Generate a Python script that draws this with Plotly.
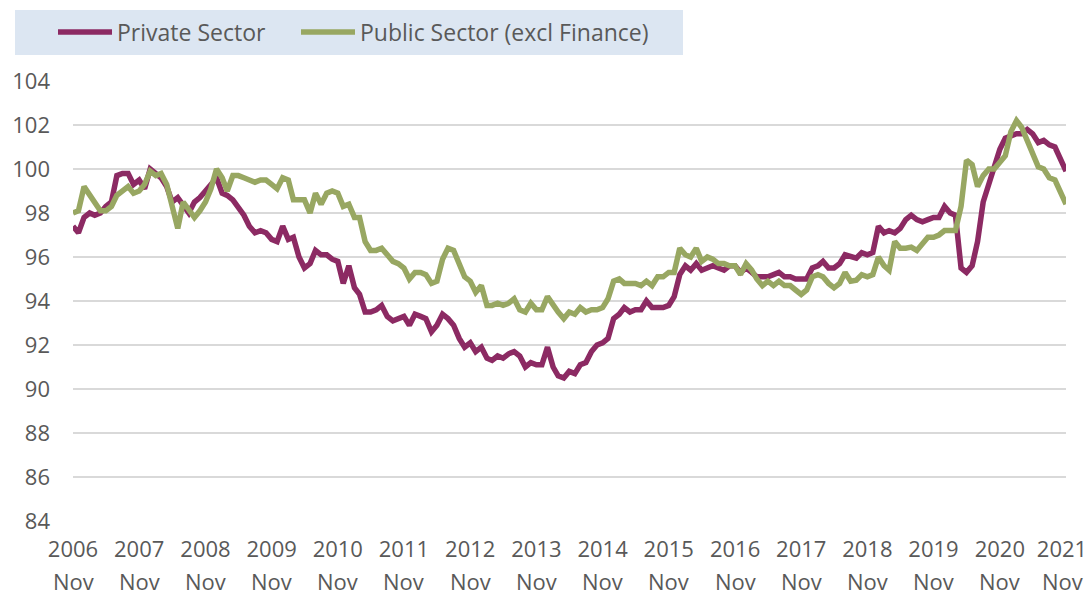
import pandas as pd
import plotly.graph_objects as go

start_month = "2006-11-01"
n_months = 181
tick_years = [str(y) for y in range(2006, 2022)]
tick_month = "Nov"

private_sector = [
    97.4, 97.1, 97.8, 98.0, 97.9, 98.0, 98.3, 98.5, 99.7, 99.8, 99.8, 99.3,
    99.5, 99.1, 100.0, 99.8, 99.6, 99.2, 98.5, 98.7, 98.3, 98.0, 98.5, 98.7,
    99.0, 99.3, 99.6, 98.9, 98.8, 98.6, 98.3, 97.9, 97.4, 97.1, 97.2, 97.1,
    96.8, 96.7, 97.4, 96.8, 96.9, 96.0, 95.5, 95.7, 96.3, 96.1, 96.1, 95.9,
    95.8, 94.8, 95.6, 94.6, 94.3, 93.5, 93.5, 93.6, 93.8, 93.3, 93.1, 93.2,
    93.3, 92.9, 93.4, 93.3, 93.2, 92.6, 92.9, 93.4, 93.2, 92.9, 92.3, 91.9,
    92.1, 91.7, 91.9, 91.4, 91.3, 91.5, 91.4, 91.6, 91.7, 91.5, 91.0, 91.2,
    91.1, 91.1, 91.9, 91.0, 90.6, 90.5, 90.8, 90.7, 91.1, 91.2, 91.7, 92.0,
    92.1, 92.3, 93.2, 93.4, 93.7, 93.5, 93.6, 93.6, 94.0, 93.7, 93.7, 93.7,
    93.8, 94.2, 95.2, 95.6, 95.4, 95.7, 95.4, 95.5, 95.6, 95.5, 95.4, 95.6,
    95.6, 95.3, 95.5, 95.3, 95.1, 95.1, 95.1, 95.2, 95.3, 95.1, 95.1, 95.0,
    95.0, 95.0, 95.5, 95.6, 95.8, 95.5, 95.5, 95.7, 96.1, 96.0, 95.95, 96.2,
    96.1, 96.2, 97.4, 97.1, 97.2, 97.1, 97.3, 97.7, 97.9, 97.7, 97.6, 97.7,
    97.8, 97.8, 98.3, 98.0, 97.9, 95.5, 95.3, 95.6, 96.7, 98.5, 99.3, 99.9,
    100.9, 101.4, 101.5, 101.6, 101.6, 101.8, 101.6, 101.2, 101.3, 101.1, 101.0, 100.4,
    99.9,
]

public_sector = [
    98.0, 98.1, 99.2, 98.8, 98.5, 98.1, 98.1, 98.3, 98.8, 99.0, 99.2, 98.9,
    99.0, 99.3, 99.9, 99.7, 99.8, 99.3, 98.3, 97.3, 98.5, 98.1, 97.8, 98.1,
    98.5, 99.1, 100.0, 99.6, 99.0, 99.7, 99.7, 99.6, 99.5, 99.4, 99.5, 99.5,
    99.3, 99.1, 99.6, 99.5, 98.6, 98.6, 98.6, 98.0, 98.9, 98.4, 98.9, 99.0,
    98.9, 98.3, 98.4, 97.8, 97.8, 96.7, 96.3, 96.3, 96.4, 96.1, 95.8, 95.7,
    95.5, 95.0, 95.3, 95.3, 95.2, 94.8, 94.9, 95.9, 96.4, 96.3, 95.6, 95.1,
    94.9, 94.4, 94.7, 93.8, 93.8, 93.9, 93.8, 93.9, 94.1, 93.6, 93.5, 93.9,
    93.6, 93.6, 94.2, 93.8, 93.5, 93.2, 93.5, 93.4, 93.7, 93.5, 93.6, 93.6,
    93.7, 94.1, 94.9, 95.0, 94.8, 94.8, 94.8, 94.7, 94.9, 94.7, 95.1, 95.1,
    95.3, 95.3, 96.4, 96.1, 96.0, 96.4, 95.8, 96.0, 95.9, 95.7, 95.7, 95.6,
    95.6, 95.2, 95.7, 95.4, 95.0, 94.7, 94.9, 94.7, 94.9, 94.7, 94.7, 94.5,
    94.3, 94.5, 95.1, 95.2, 95.1, 94.8, 94.6, 94.8, 95.3, 94.9, 94.95, 95.2,
    95.1, 95.2, 96.0, 95.6, 95.4, 96.7, 96.4, 96.4, 96.45, 96.3, 96.6, 96.9,
    96.9, 97.0, 97.2, 97.2, 97.2, 98.3, 100.4, 100.2, 99.2, 99.7, 100.0, 100.0,
    100.3, 100.6, 101.7, 102.2, 101.9, 101.3, 100.6, 100.1, 100.0, 99.6, 99.5, 99.0,
    98.4,
]

months = pd.date_range(start_month, periods=n_months, freq="MS")
tick_vals = list(months[::12])
# last label nudged left so it fits inside the canvas, as in the source chart
tick_vals[-1] = tick_vals[-1] - pd.Timedelta(days=22)

PURPLE = "#8C2A63"
GREEN = "#98A762"
TEXT = "#595959"
FONT = "Open Sans"

fig = go.Figure()
fig.add_trace(go.Scatter(x=months, y=private_sector, mode="lines",
                         name="Private Sector", legend="legend",
                         line=dict(color=PURPLE, width=5.5)))
fig.add_trace(go.Scatter(x=months, y=public_sector, mode="lines",
                         name="Public Sector (excl Finance)", legend="legend2",
                         line=dict(color=GREEN, width=5.5)))

L, R, T, B = 73, 25, 81, 77
W, H = 1091, 598
pw, ph = W - L - R, H - T - B

fig.add_shape(type="rect", xref="paper", yref="paper",
              x0=(15 - L) / pw, x1=(683 - L) / pw,
              y0=(H - B - 55) / ph, y1=(H - B - 10) / ph,
              fillcolor="#DCE6F2", line=dict(width=0), layer="below")

for tv in tick_vals:
    fig.add_annotation(x=tv, y=0, xref="x", yref="paper", text=tick_month,
                       showarrow=False, yanchor="bottom", yshift=-77,
                       font=dict(size=22, color=TEXT, family=FONT))

leg_common = dict(orientation="h", xref="container", yref="container",
                  xanchor="left", yanchor="middle",
                  bgcolor="rgba(0,0,0,0)", font=dict(size=23, color=TEXT),
                  itemwidth=54)

fig.update_layout(
    width=W, height=H,
    margin=dict(l=L, r=R, t=T, b=B, autoexpand=False),
    paper_bgcolor="white", plot_bgcolor="white",
    font=dict(family=FONT, size=22, color=TEXT),
    showlegend=True,
    legend=dict(x=53 / W, y=1 - 32 / H, **leg_common),
    legend2=dict(x=296 / W, y=1 - 32 / H, **leg_common),
    xaxis=dict(range=[months[0], months[-1]],
               tickvals=tick_vals, ticktext=tick_years,
               showgrid=False, zeroline=False, showline=False,
               ticks="", ticklabelstandoff=13, automargin=False,
               tickfont=dict(size=22, color=TEXT)),
    yaxis=dict(range=[84, 104], dtick=2, tick0=84,
               showgrid=True, gridcolor="#D9D9D9", gridwidth=1.5,
               zeroline=False, showline=False, ticks="", automargin=False,
               ticklabelstandoff=22,
               tickfont=dict(size=22, color=TEXT)),
)

fig.write_html("out.html", config={"displayModeBar": False},
               post_script="document.body.style.margin='0px';")
